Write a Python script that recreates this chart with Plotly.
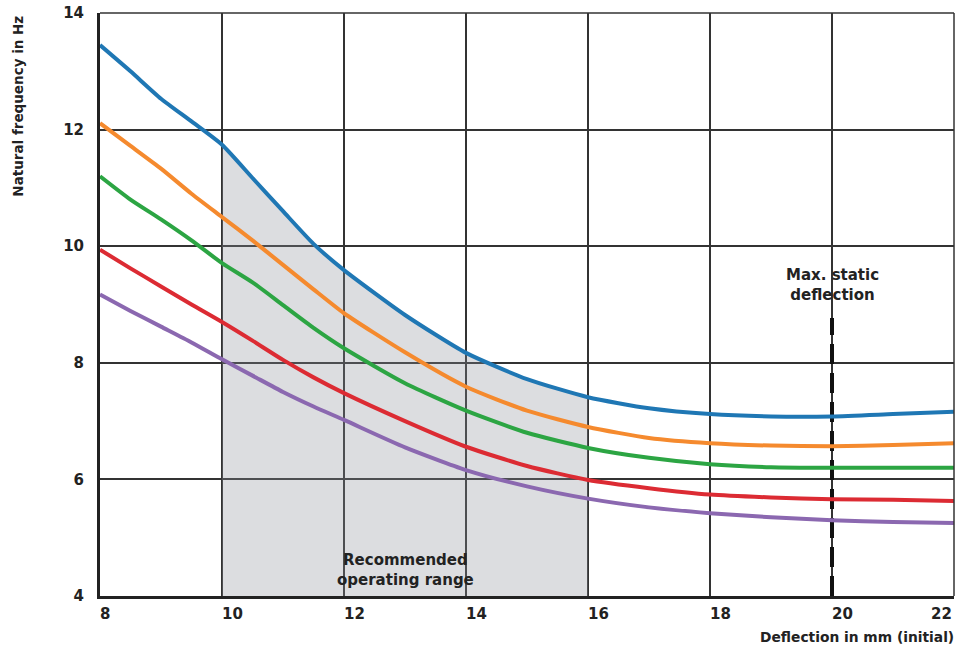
import plotly.graph_objects as go

# Deflection in mm (initial)
deflection = [8, 8.5, 9, 9.5, 10, 10.5, 11, 11.5, 12, 13, 14, 15, 16, 17, 18, 19, 20, 21, 22]

# Natural frequency in Hz, one list per curve
freq_blue   = [13.45, 13.0, 12.53, 12.14, 11.74, 11.17, 10.6, 10.04, 9.59, 8.82, 8.17, 7.72, 7.41, 7.22, 7.12, 7.08, 7.08, 7.12, 7.16]
freq_orange = [12.11, 11.72, 11.33, 10.9, 10.5, 10.1, 9.68, 9.26, 8.85, 8.18, 7.59, 7.18, 6.9, 6.71, 6.62, 6.58, 6.57, 6.59, 6.62]
freq_green  = [11.2, 10.8, 10.46, 10.1, 9.71, 9.38, 8.99, 8.6, 8.25, 7.65, 7.18, 6.8, 6.54, 6.37, 6.26, 6.21, 6.2, 6.2, 6.2]
freq_red    = [9.94, 9.62, 9.31, 9.0, 8.7, 8.38, 8.05, 7.75, 7.48, 7.0, 6.56, 6.23, 5.99, 5.85, 5.74, 5.69, 5.66, 5.65, 5.63]
freq_purple = [9.17, 8.89, 8.62, 8.35, 8.06, 7.78, 7.5, 7.25, 7.02, 6.55, 6.16, 5.88, 5.67, 5.52, 5.42, 5.35, 5.3, 5.27, 5.25]

series = [freq_blue, freq_orange, freq_green, freq_red, freq_purple]
colors = ["#1f77b4", "#f58a2e", "#2ca543", "#dc2b33", "#8b68b0"]

range_lo, range_hi = 10, 16          # recommended operating range
max_static = 20                       # max static deflection
dash_top = 8.77

x_ticks = [8, 10, 12, 14, 16, 18, 20, 22]
x_tick_labels = ["8", "10", "12", "14", "16", "18", "20", "22"]
y_ticks = [4, 6, 8, 10, 12, 14]
y_tick_labels = ["4", "6", "8", "10", "12", "14"]

FONT = "DejaVu Sans"
TXT = "#222222"
fig = go.Figure()

# shaded operating range under the top curve
sx = [x for x in deflection if range_lo <= x <= range_hi]
sy = [y for x, y in zip(deflection, freq_blue) if range_lo <= x <= range_hi]
fig.add_trace(go.Scatter(x=sx, y=sy, mode="lines", line=dict(width=0, shape="spline", smoothing=0.6),
                         fill="tozeroy", fillcolor="rgba(138,141,152,0.30)",
                         hoverinfo="skip", showlegend=False))

# max static deflection dashed line
fig.add_trace(go.Scatter(x=[max_static, max_static], y=[4, dash_top], mode="lines",
                         line=dict(color="#111111", width=4, dash="20px,9px"),
                         showlegend=False, hoverinfo="skip"))

for ys, c in zip(series, colors):
    fig.add_trace(go.Scatter(x=deflection, y=ys, mode="lines",
                             line=dict(color=c, width=4, shape="spline", smoothing=0.6),
                             showlegend=False))

# edge borders (top/right)
fig.add_shape(type="line", xref="x domain", yref="y domain", x0=0, x1=1, y0=1, y1=1,
              line=dict(color="#333333", width=1.5))
fig.add_shape(type="line", xref="x domain", yref="y domain", x0=1, x1=1, y0=0, y1=1,
              line=dict(color="#333333", width=1.5))

# x tick labels (left-aligned at tick, last one right-aligned)
for i, (xv, lab) in enumerate(zip(x_ticks, x_tick_labels)):
    last = i == len(x_ticks) - 1
    fig.add_annotation(x=xv, y=0, xref="x", yref="paper", yanchor="top", yshift=-7,
                       xanchor="right" if last else "left", xshift=0 if last else -2,
                       text=lab, showarrow=False,
                       font=dict(family=FONT, size=15, color=TXT, weight="bold"))

fig.add_annotation(x=1, y=0, xref="paper", yref="paper", xanchor="right", yanchor="top",
                   yshift=-31, xshift=2, text="Deflection in mm (initial)", showarrow=False,
                   font=dict(family=FONT, size=13.8, color=TXT, weight="bold"))

fig.add_annotation(x=-0.097, y=1, xref="paper", yref="paper", xanchor="center", yanchor="top",
                   yshift=-1, textangle=-90, text="Natural frequency in Hz", showarrow=False,
                   font=dict(family=FONT, size=13.5, color=TXT, weight="bold"))

fig.add_annotation(x=13, y=4.45, xref="x", yref="y", xanchor="center", yanchor="middle",
                   text="Recommended<br>operating range", showarrow=False,
                   font=dict(family=FONT, size=15, color=TXT, weight="bold"))

fig.add_annotation(x=max_static, y=9.33, xref="x", yref="y", xanchor="center", yanchor="middle",
                   text="Max. static<br>deflection", showarrow=False,
                   font=dict(family=FONT, size=15, color=TXT, weight="bold"))

fig.update_layout(
    width=957, height=648,
    margin=dict(l=100, r=3, t=13, b=52),
    plot_bgcolor="white", paper_bgcolor="white",
    xaxis=dict(range=[8, 22], tickvals=x_ticks, showticklabels=False,
               showgrid=True, gridcolor="#333333", gridwidth=1.5,
               showline=True, linecolor="#222222", linewidth=3,
               ticks="", zeroline=False, fixedrange=True),
    yaxis=dict(range=[4, 14], tickvals=y_ticks, ticktext=y_tick_labels,
               showgrid=True, gridcolor="#333333", gridwidth=1.5,
               showline=True, linecolor="#222222", linewidth=3,
               ticks="", ticklabelstandoff=10, zeroline=False,
               tickfont=dict(family=FONT, size=15, color=TXT, weight="bold"),
               fixedrange=True),
)

fig.write_html("out.html", config={"displayModeBar": False},
               post_script="document.body.style.margin='0';document.body.style.overflow='hidden';")
